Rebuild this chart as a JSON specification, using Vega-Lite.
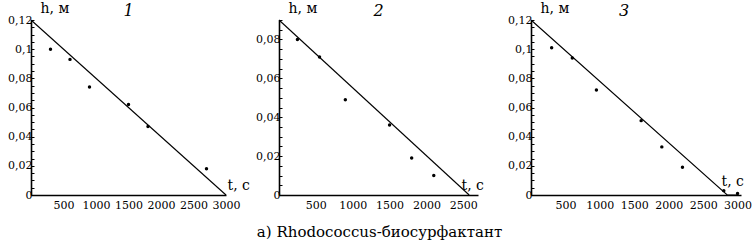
{
  "$schema": "https://vega.github.io/schema/vega-lite/v6.json",
  "background": "white",
  "padding": {"left": 7, "top": 1, "right": 2, "bottom": 2},
  "bounds": "flush",
  "spacing": 53,
  "config": {
    "font": "DejaVu Serif",
    "view": {"stroke": null},
    "axis": {
      "domainColor": "black", "domainWidth": 1.6, "tickColor": "black",
      "labelColor": "black", "labelFont": "DejaVu Serif", "labelFontSize": 11,
      "labelOverlap": false, "labelFlush": false, "labelBound": false,
      "titleFont": "DejaVu Serif", "titleFontSize": 14, "titleFontWeight": "normal",
      "titleColor": "black", "grid": false
    },
    "title": {"font": "DejaVu Serif", "fontSize": 16, "fontWeight": "normal", "color": "black"}
  },
  "title": {"text": "а) Rhodococcus-биосурфактант", "orient": "bottom", "anchor": "middle", "font": "DejaVu Serif", "fontSize": 15, "offset": 15},
  "datasets": {
    "p1": [
      {"t": 300, "h": 0.100}, {"t": 600, "h": 0.093}, {"t": 900, "h": 0.074},
      {"t": 1500, "h": 0.062}, {"t": 1800, "h": 0.047}, {"t": 2700, "h": 0.018}
    ],
    "l1": [{"t": 0, "h": 0.12}, {"t": 3000, "h": 0}],
    "p2": [
      {"t": 250, "h": 0.080}, {"t": 550, "h": 0.071}, {"t": 900, "h": 0.049},
      {"t": 1500, "h": 0.036}, {"t": 1800, "h": 0.019}, {"t": 2100, "h": 0.010}
    ],
    "l2": [{"t": 0, "h": 0.09}, {"t": 2580, "h": 0}],
    "p3": [
      {"t": 300, "h": 0.101}, {"t": 600, "h": 0.094}, {"t": 950, "h": 0.072},
      {"t": 1600, "h": 0.051}, {"t": 1900, "h": 0.033}, {"t": 2200, "h": 0.019},
      {"t": 2800, "h": 0.003}, {"t": 3000, "h": 0.001}
    ],
    "l3": [{"t": 0, "h": 0.12}, {"t": 2850, "h": 0}, {"t": 3000, "h": 0}]
  },
  "hconcat": [
    {
      "width": 195, "height": 175,
      "title": {"text": "1", "fontStyle": "italic", "fontSize": 16, "offset": -18},
      "encoding": {
        "x": {"field": "t", "type": "quantitative", "scale": {"domain": [0, 3000], "nice": false},
              "axis": {"values": [500, 1000, 1500, 2000, 2500, 3000], "format": "d", "labelOverlap": false, "tickSize": 0, "labelPadding": 4,
                       "title": "t, c", "titleAlign": "left", "titleBaseline": "alphabetic", "titleX": 196, "titleY": -6}},
        "y": {"field": "h", "type": "quantitative", "scale": {"domain": [0, 0.12], "nice": false},
              "axis": {"values": [0, 0.005, 0.01, 0.015, 0.02, 0.025, 0.03, 0.035, 0.04, 0.045, 0.05, 0.055, 0.06, 0.065, 0.07, 0.075, 0.08, 0.085, 0.09, 0.095, 0.1, 0.105, 0.11, 0.115, 0.12],
                       "tickSize": -3, "labelPadding": 2, "labelOverlap": false,
                       "labelExpr": "abs(datum.value*50 - round(datum.value*50)) < 0.001 ? replace(format(datum.value, '.2~f'), '.', ',') : ''",
                       "title": "h, м", "titleAngle": 0, "titleAlign": "left", "titleBaseline": "alphabetic", "titleX": 9, "titleY": -8}}
      },
      "layer": [
        {"data": {"name": "l1"}, "mark": {"type": "line", "color": "black", "strokeWidth": 1.1}},
        {"data": {"name": "p1"}, "mark": {"type": "circle", "color": "black", "opacity": 1, "size": 12}}
      ]
    },
    {
      "width": 199, "height": 175,
      "title": {"text": "2", "fontStyle": "italic", "fontSize": 16, "offset": -18},
      "encoding": {
        "x": {"field": "t", "type": "quantitative", "scale": {"domain": [0, 2700], "nice": false},
              "axis": {"values": [500, 1000, 1500, 2000, 2500], "format": "d", "labelOverlap": false, "tickSize": 0, "labelPadding": 4,
                       "title": "t, c", "titleAlign": "left", "titleBaseline": "alphabetic", "titleX": 182, "titleY": -6}},
        "y": {"field": "h", "type": "quantitative", "scale": {"domain": [0, 0.09], "nice": false},
              "axis": {"values": [0, 0.005, 0.01, 0.015, 0.02, 0.025, 0.03, 0.035, 0.04, 0.045, 0.05, 0.055, 0.06, 0.065, 0.07, 0.075, 0.08, 0.085, 0.09],
                       "tickSize": -3, "labelPadding": 2, "labelOverlap": false,
                       "labelExpr": "abs(datum.value*50 - round(datum.value*50)) < 0.001 && datum.value < 0.085 ? replace(format(datum.value, '.2~f'), '.', ',') : ''",
                       "title": "h, м", "titleAngle": 0, "titleAlign": "left", "titleBaseline": "alphabetic", "titleX": 9, "titleY": -8}}
      },
      "layer": [
        {"data": {"name": "l2"}, "mark": {"type": "line", "color": "black", "strokeWidth": 1.1}},
        {"data": {"name": "p2"}, "mark": {"type": "circle", "color": "black", "opacity": 1, "size": 12}}
      ]
    },
    {
      "width": 210, "height": 175,
      "title": {"text": "3", "fontStyle": "italic", "fontSize": 16, "offset": -18, "dx": -12},
      "encoding": {
        "x": {"field": "t", "type": "quantitative", "scale": {"domain": [0, 3050], "nice": false},
              "axis": {"values": [500, 1000, 1500, 2000, 2500, 3000], "format": "d", "labelOverlap": false, "tickSize": 0, "labelPadding": 4,
                       "title": "t, c", "titleAlign": "left", "titleBaseline": "alphabetic", "titleX": 190, "titleY": -10}},
        "y": {"field": "h", "type": "quantitative", "scale": {"domain": [0, 0.12], "nice": false},
              "axis": {"values": [0, 0.005, 0.01, 0.015, 0.02, 0.025, 0.03, 0.035, 0.04, 0.045, 0.05, 0.055, 0.06, 0.065, 0.07, 0.075, 0.08, 0.085, 0.09, 0.095, 0.1, 0.105, 0.11, 0.115, 0.12],
                       "tickSize": -3, "labelPadding": 2, "labelOverlap": false,
                       "labelExpr": "abs(datum.value*50 - round(datum.value*50)) < 0.001 ? replace(format(datum.value, '.2~f'), '.', ',') : ''",
                       "title": "h, м", "titleAngle": 0, "titleAlign": "left", "titleBaseline": "alphabetic", "titleX": 9, "titleY": -8}}
      },
      "layer": [
        {"data": {"name": "l3"}, "mark": {"type": "line", "color": "black", "strokeWidth": 1.1}},
        {"data": {"name": "p3"}, "mark": {"type": "circle", "color": "black", "opacity": 1, "size": 12}}
      ]
    }
  ]
}
